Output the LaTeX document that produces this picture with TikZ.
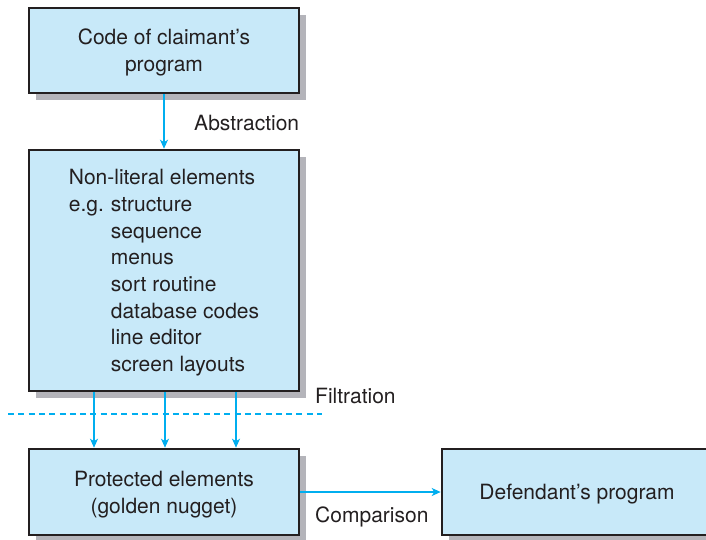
\documentclass[tikz,border=0pt]{standalone}
\usepackage{fontspec}
\setmainfont{TeX Gyre Heros}
\usetikzlibrary{arrows.meta,shadows}
\definecolor{boxfill}{RGB}{200,233,249}
\definecolor{arrowcyan}{RGB}{0,174,239}
\definecolor{shadowgray}{RGB}{180,180,186}
\definecolor{inkgray}{RGB}{35,31,32}
\tikzset{
  boxnode/.style={draw=inkgray, line width=2.6pt, fill=boxfill, minimum width=270pt,
    align=center, inner sep=0pt, text=inkgray, text depth=0pt,
    font=\fontsize{21}{26.7}\selectfont,
    drop shadow={shadow xshift=7pt, shadow yshift=-7pt, fill=shadowgray, opacity=1}},
  lbl/.style={anchor=base west, inner sep=0pt, text=inkgray, font=\fontsize{21}{25}\selectfont},
  arr/.style={draw=arrowcyan, line width=1.4pt, -{Stealth[length=9pt,width=8pt,inset=2.5pt]}},
  dashline/.style={draw=arrowcyan, line width=1.3pt, dash pattern=on 6pt off 4.3pt}
}
\begin{document}
\begin{tikzpicture}[x=1pt,y=-1pt]
\clip (0,0) rectangle (706,539);
\useasboundingbox (0,0) rectangle (706,539);
\node[boxnode, minimum height=85pt] (top) at (164,50.5) {Code of claimant's\\program};
\node[boxnode, minimum height=241pt, align=left] (mid) at (164,270.5)
  {Non-literal elements\\
   \makebox[42pt][l]{e.g.}structure\\
   \hspace*{42pt}sequence\\
   \hspace*{42pt}menus\\
   \hspace*{42pt}sort routine\\
   \hspace*{42pt}database codes\\
   \hspace*{42pt}line editor\\
   \hspace*{42pt}screen layouts};
\node[boxnode, minimum height=86pt] (prot) at (164,492) {Protected elements\\(golden nugget)};
\node[boxnode, minimum height=86pt] (def) at (577,492) {Defendant's program};
\node[lbl] (abs) at (194,130) {Abstraction};
\node[lbl] (filt) at (315,403) {Filtration};
\node[lbl] (comp) at (315,522) {Comparison};
\coordinate (f1) at (94,0);
\coordinate (f2) at (165,0);
\coordinate (f3) at (236,0);
\coordinate (dl) at (8,414);
\coordinate (dr) at (322,414);
\draw[arr] (top.south) -- (mid.north);
\draw[arr] (mid.south -| f1) -- (prot.north -| f1);
\draw[arr] (mid.south -| f2) -- (prot.north -| f2);
\draw[arr] (mid.south -| f3) -- (prot.north -| f3);
\draw[dashline] (dl) -- (dr);
\draw[arr] (prot.east) -- (def.west);
\end{tikzpicture}
\end{document}
